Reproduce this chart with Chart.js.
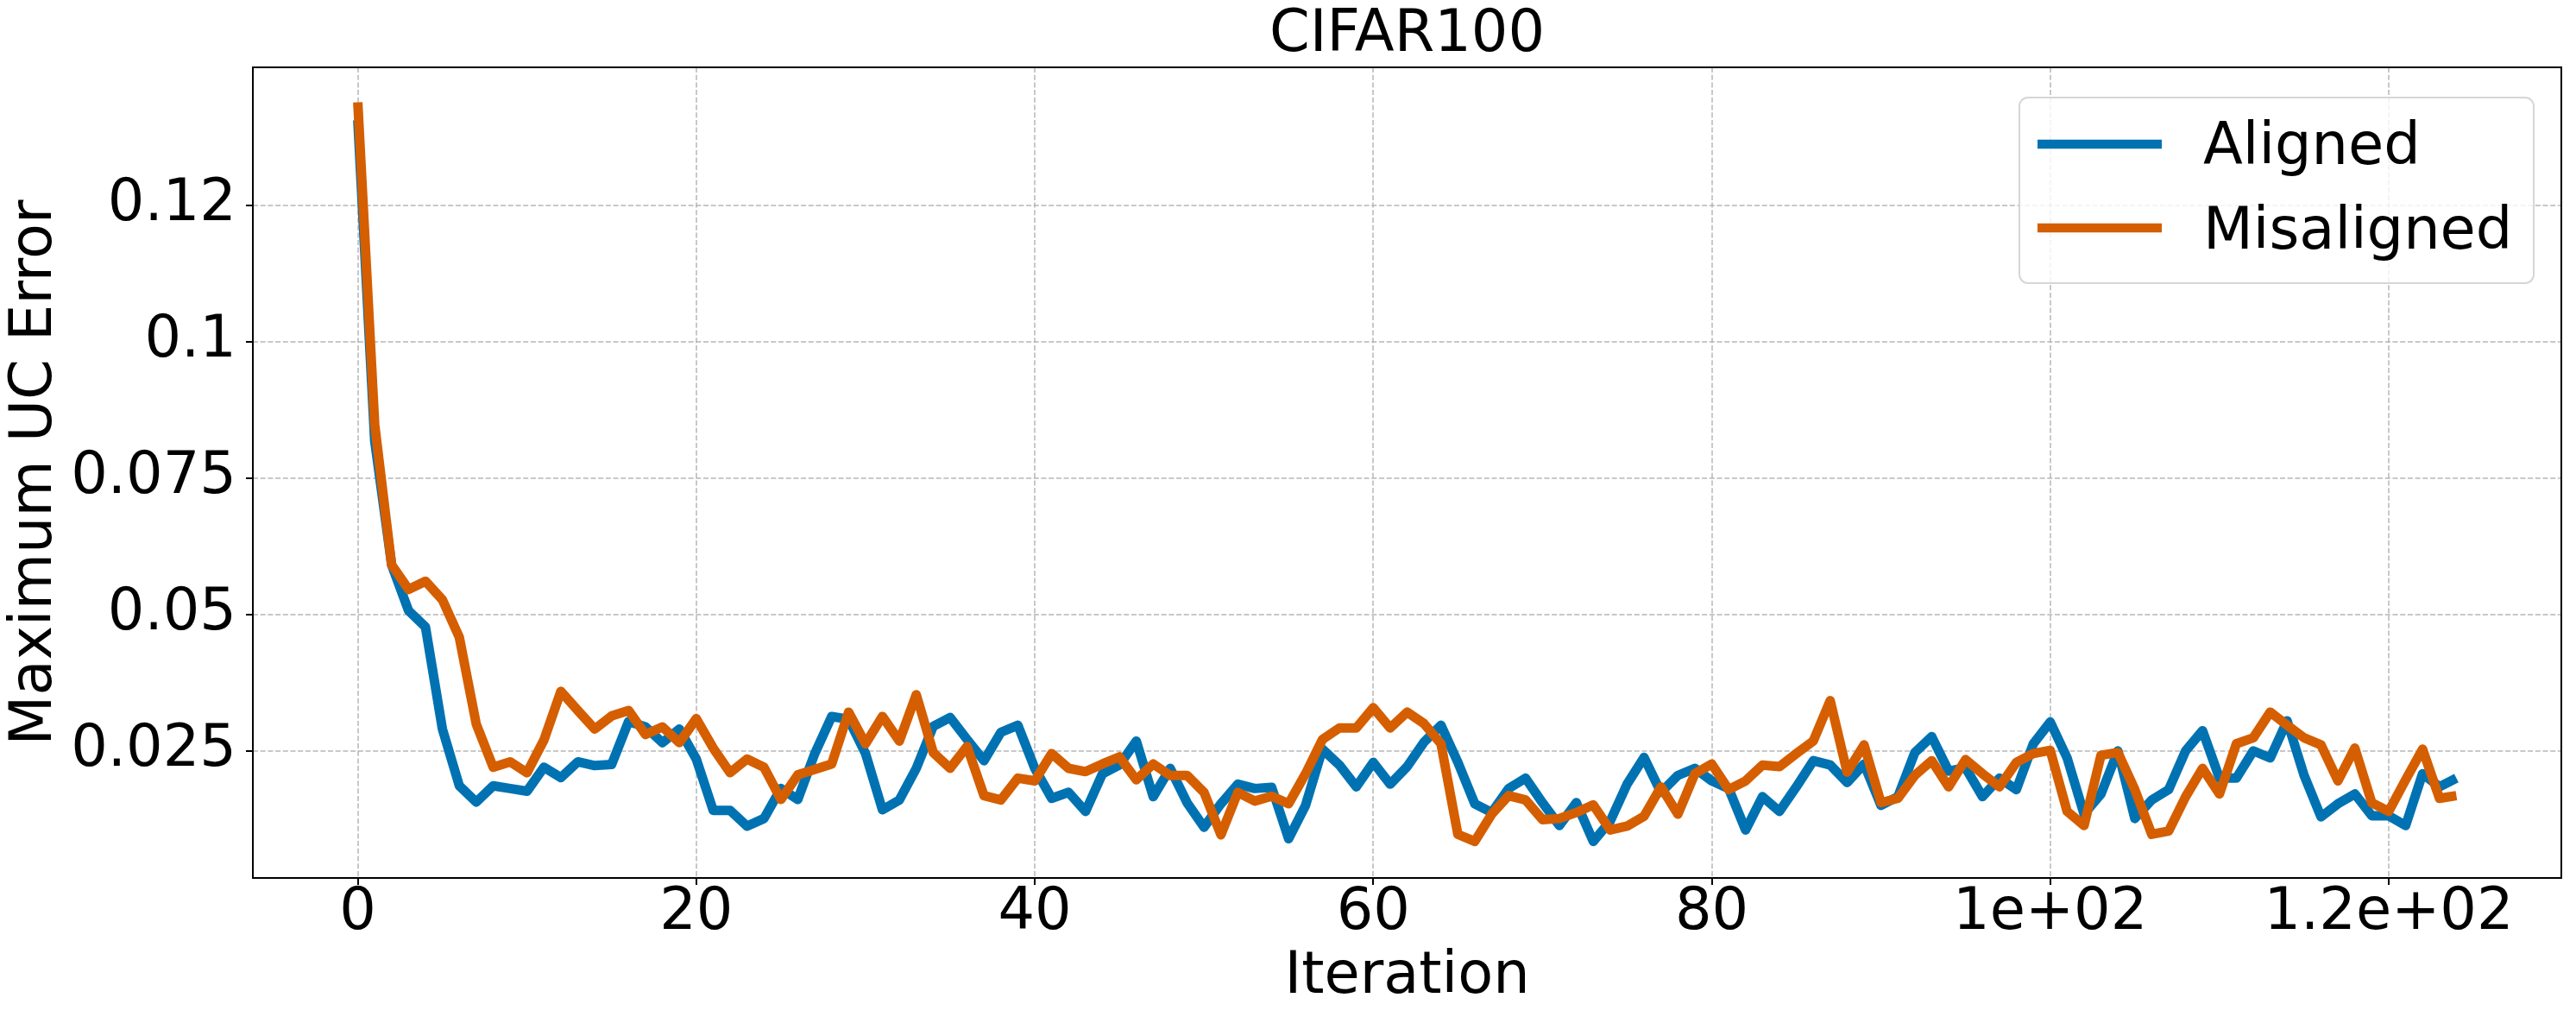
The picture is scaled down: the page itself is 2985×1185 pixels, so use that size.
<!DOCTYPE html>
<html><head><meta charset="utf-8">
<script src="https://cdn.jsdelivr.net/npm/chart.js@4.4.1/dist/chart.umd.min.js"></script>
<style>html,body{margin:0;padding:0;background:#fff;}#wrap{width:2985px;height:1185px;}</style>
</head><body><div id="wrap"><canvas id="c" width="2985" height="1185"></canvas></div>
<script>
const iterations = Array.from({length: 125}, (_, i) => i);
const aligned = [
0.1406,0.0818,0.0591,0.0507,0.0477,0.0290,0.0186,0.0156,0.0186,0.0181,
0.0176,0.0220,0.0201,0.0230,0.0223,0.0225,0.0304,0.0294,0.0265,0.0290,
0.0235,0.0141,0.0141,0.0112,0.0126,0.0181,0.0161,0.0245,0.0313,0.0308,
0.0245,0.0142,0.0160,0.0218,0.0295,0.0311,0.0271,0.0232,0.0284,0.0297,
0.0218,0.0163,0.0174,0.0139,0.0208,0.0224,0.0268,0.0166,0.0218,0.0155,
0.0110,0.0153,0.0189,0.0181,0.0183,0.0089,0.0150,0.0253,0.0224,0.0184,
0.0229,0.0189,0.0221,0.0266,0.0297,0.0229,0.0153,0.0137,0.0181,0.0200,
0.0155,0.0113,0.0155,0.0084,0.0121,0.0189,0.0238,0.0174,0.0205,0.0218,
0.0195,0.0181,0.0105,0.0166,0.0139,0.0184,0.0232,0.0224,0.0192,0.0226,
0.0150,0.0166,0.0247,0.0276,0.0213,0.0219,0.0166,0.0200,0.0179,0.0263,
0.0303,0.0237,0.0134,0.0171,0.0250,0.0126,0.0160,0.0179,0.0250,0.0287,
0.0200,0.0200,0.0250,0.0237,0.0305,0.0205,0.0129,0.0153,0.0171,0.0131,
0.0131,0.0113,0.0208,0.0184,0.0200
];
const misaligned = [
0.1439,0.0848,0.0591,0.0546,0.0561,0.0527,0.0458,0.0299,0.0220,0.0230,
0.0210,0.0270,0.0359,0.0324,0.0290,0.0314,0.0324,0.0280,0.0294,0.0265,
0.0309,0.0255,0.0210,0.0235,0.0220,0.0161,0.0206,0.0216,0.0226,0.0321,
0.0263,0.0313,0.0268,0.0353,0.0247,0.0218,0.0258,0.0168,0.0160,0.0200,
0.0195,0.0245,0.0218,0.0212,0.0226,0.0239,0.0197,0.0226,0.0205,0.0205,
0.0174,0.0096,0.0174,0.0158,0.0167,0.0153,0.0208,0.0271,0.0292,0.0292,
0.0329,0.0292,0.0321,0.0300,0.0263,0.0097,0.0084,0.0134,0.0168,0.0160,
0.0124,0.0126,0.0137,0.0151,0.0105,0.0112,0.0130,0.0184,0.0134,0.0208,
0.0226,0.0179,0.0195,0.0224,0.0221,0.0245,0.0268,0.0342,0.0211,0.0261,
0.0155,0.0163,0.0205,0.0232,0.0184,0.0234,0.0208,0.0184,0.0229,0.0245,
0.0251,0.0139,0.0113,0.0242,0.0247,0.0179,0.0097,0.0103,0.0166,0.0218,
0.0171,0.0263,0.0274,0.0321,0.0297,0.0274,0.0261,0.0195,0.0255,0.0155,
0.0139,0.0197,0.0253,0.0163,0.0168
];
const xTickValues = [0, 20, 40, 60, 80, 100, 120];
const xTickLabels = ['0', '20', '40', '60', '80', '1e+02', '1.2e+02'];
const yTickValues = [0.025, 0.05, 0.075, 0.1, 0.125];
const yTickLabels = ['0.025', '0.05', '0.075', '0.1', '0.12'];
const seriesNames = ['Aligned', 'Misaligned'];
const seriesColors = ['#0072B2', '#D55E00'];
const titleText = 'CIFAR100';
const xTitle = 'Iteration';
const yTitle = 'Maximum UC Error';

const FONT = "'DejaVu Sans', sans-serif";
const FS = 67;
const gridColor = 'rgba(176,176,176,0.7)';

const framePlugin = {
  id: 'frame',
  afterDatasetsDraw(chart) {
    const {ctx, chartArea: a} = chart;
    ctx.save();
    ctx.strokeStyle = '#000';
    ctx.lineWidth = 2;
    ctx.setLineDash([]);
    ctx.strokeRect(a.left, a.top, a.right - a.left, a.bottom - a.top);
    ctx.restore();
  }
};

const legendPlugin = {
  id: 'boxLegend',
  afterDraw(chart) {
    const ctx = chart.ctx;
    const bx = 2340, by = 113, bw = 596, bh = 215, r = 10;
    ctx.save();
    ctx.beginPath();
    ctx.moveTo(bx + r, by);
    ctx.arcTo(bx + bw, by, bx + bw, by + bh, r);
    ctx.arcTo(bx + bw, by + bh, bx, by + bh, r);
    ctx.arcTo(bx, by + bh, bx, by, r);
    ctx.arcTo(bx, by, bx + bw, by, r);
    ctx.closePath();
    ctx.fillStyle = 'rgba(255,255,255,0.8)';
    ctx.fill();
    ctx.strokeStyle = '#d6d6d6';
    ctx.lineWidth = 2;
    ctx.stroke();
    const lineYs = [167, 264];
    const baseYs = [190, 288];
    chart.data.datasets.forEach((ds) => {
      const i = seriesNames.indexOf(ds.label);
      ctx.strokeStyle = ds.borderColor;
      ctx.lineWidth = 10.5;
      ctx.lineCap = 'butt';
      ctx.beginPath();
      ctx.moveTo(2361, lineYs[i]);
      ctx.lineTo(2505, lineYs[i]);
      ctx.stroke();
      ctx.fillStyle = '#000';
      ctx.font = FS + 'px ' + FONT;
      ctx.textBaseline = 'alphabetic';
      ctx.textAlign = 'left';
      ctx.fillText(ds.label, 2553, baseYs[i]);
    });
    ctx.restore();
  }
};

new Chart(document.getElementById('c'), {
  type: 'line',
  data: {
    labels: iterations,
    datasets: [
      {label: seriesNames[0], data: aligned, borderColor: seriesColors[0], backgroundColor: seriesColors[0],
       borderWidth: 11, pointRadius: 0, tension: 0, borderCapStyle: 'butt', borderJoinStyle: 'round', order: 2, fill: false},
      {label: seriesNames[1], data: misaligned, borderColor: seriesColors[1], backgroundColor: seriesColors[1],
       borderWidth: 11, pointRadius: 0, tension: 0, borderCapStyle: 'butt', borderJoinStyle: 'round', order: 1, fill: false}
    ]
  },
  options: {
    responsive: false,
    animation: false,
    devicePixelRatio: 1,
    events: [],
    layout: {padding: {left: 0, right: 17, top: 0, bottom: 0}},
    plugins: {
      legend: {display: false},
      tooltip: {enabled: false},
      title: {display: true, text: titleText, fullSize: false, color: '#000',
              font: {family: FONT, size: FS, weight: 'normal', lineHeight: 72 / 67}, padding: {top: 6, bottom: 0}}
    },
    scales: {
      x: {
        type: 'linear', min: -6.2, max: 130.2,
        afterBuildTicks: s => { s.ticks = xTickValues.map(v => ({value: v})); },
        afterFit: s => { s.height = 168; },
        ticks: {callback: (v, i) => xTickLabels[i], color: '#000', font: {family: FONT, size: FS, lineHeight: 1}, padding: 0,
                maxRotation: 0, autoSkip: false},
        grid: {color: gridColor, lineWidth: 2, drawTicks: true, tickLength: 8, tickColor: '#000', tickWidth: 2, tickBorderDash: []},
        border: {display: false, dash: [6, 2.7]},
        title: {display: true, text: xTitle, color: '#000', font: {family: FONT, size: FS}, padding: {top: 0, bottom: 12}}
      },
      y: {
        type: 'linear', min: 0.0017, max: 0.1503,
        afterBuildTicks: s => { s.ticks = yTickValues.map(v => ({value: v})); },
        afterFit: s => { s.width = 293; },
        ticks: {callback: (v, i) => yTickLabels[i], color: '#000', font: {family: FONT, size: FS}, padding: 11},
        grid: {color: gridColor, lineWidth: 2, drawTicks: true, tickLength: 8, tickColor: '#000', tickWidth: 2, tickBorderDash: []},
        border: {display: false, dash: [6, 2.7]},
        title: {display: true, text: yTitle, color: '#000', font: {family: FONT, size: FS}, padding: {top: 1, bottom: 0}}
      }
    }
  },
  plugins: [framePlugin, legendPlugin]
});
</script></body></html>
